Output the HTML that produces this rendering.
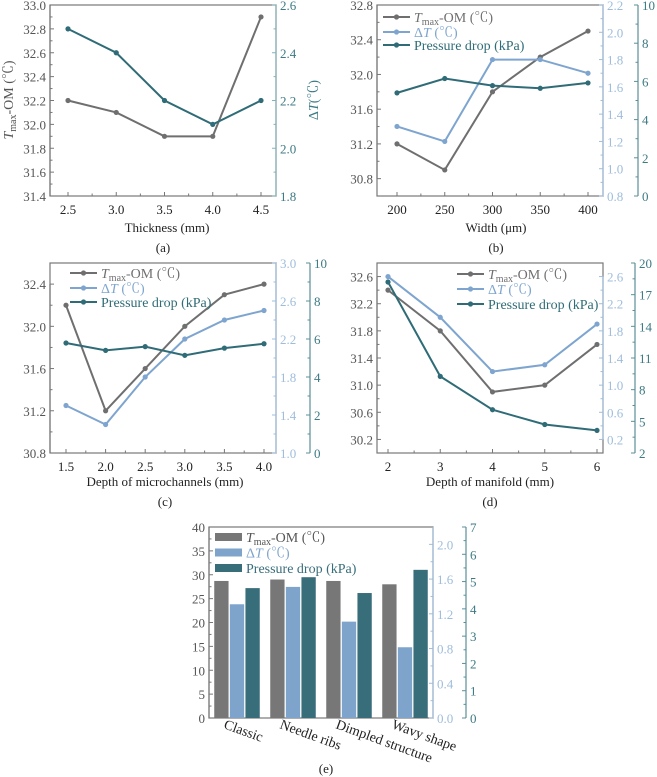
<!DOCTYPE html>
<html><head><meta charset="utf-8">
<style>
body{margin:0;background:#fff}
svg{display:block}
svg text{font-family:"Liberation Serif","Times New Roman","Noto Serif CJK SC",serif}
</style></head>
<body>
<svg id="fig" width="657" height="777" viewBox="0 0 657 777" xmlns="http://www.w3.org/2000/svg" font-family="Liberation Serif, serif"></svg>
<script>
// ---- Panel (a) data
const aX = [2.5, 3.0, 3.5, 4.0, 4.5];
const aTmax = [32.2, 32.1, 31.9, 31.9, 32.9];
const aDT = [2.5, 2.4, 2.2, 2.1, 2.2];
const aLeftTicks = [31.4, 31.6, 31.8, 32.0, 32.2, 32.4, 32.6, 32.8, 33.0];
const aRightTicks = [1.8, 2.0, 2.2, 2.4, 2.6];
const aXTicks = ["2.5", "3.0", "3.5", "4.0", "4.5"];
// ---- Panel (b) data
const bX = [200, 250, 300, 350, 400];
const bTmax = [31.2, 30.9, 31.8, 32.2, 32.5];
const bDT = [1.31, 1.2, 1.8, 1.8, 1.7];
const bDP = [5.4, 6.15, 5.78, 5.64, 5.92];
const bLeftTicks = [30.8, 31.2, 31.6, 32.0, 32.4, 32.8];
const bDTTicks = [0.8, 1.0, 1.2, 1.4, 1.6, 1.8, 2.0, 2.2];
const bDPTicks = [0, 2, 4, 6, 8, 10];
const bXTicks = ["200", "250", "300", "350", "400"];
// ---- Panel (c) data
const cX = [1.5, 2.0, 2.5, 3.0, 3.5, 4.0];
const cTmax = [32.2, 31.2, 31.6, 32.0, 32.3, 32.4];
const cDT = [1.5, 1.3, 1.8, 2.2, 2.4, 2.5];
const cDP = [5.79, 5.4, 5.6, 5.14, 5.52, 5.75];
const cLeftTicks = [30.8, 31.2, 31.6, 32.0, 32.4];
const cDTTicks = [1.0, 1.4, 1.8, 2.2, 2.6, 3.0];
const cDPTicks = [0, 2, 4, 6, 8, 10];
const cXTicks = ["1.5", "2.0", "2.5", "3.0", "3.5", "4.0"];
// ---- Panel (d) data
const dX = [2, 3, 4, 5, 6];
const dTmax = [32.4, 31.8, 30.9, 31.0, 31.6];
const dDT = [2.6, 2.0, 1.2, 1.3, 1.9];
const dDP = [18.2, 9.26, 6.1, 4.7, 4.14];
const dLeftTicks = [30.2, 30.6, 31.0, 31.4, 31.8, 32.2, 32.6];
const dDTTicks = [0.2, 0.6, 1.0, 1.4, 1.8, 2.2, 2.6];
const dDPTicks = [2, 5, 8, 11, 14, 17, 20];
const dXTicks = ["2", "3", "4", "5", "6"];
// ---- Panel (e) data
const eCats = ["Classic", "Needle ribs", "Dimpled structure", "Wavy shape"];
const eTmax = [28.7, 29.0, 28.7, 28.0];
const eDT = [1.31, 1.51, 1.11, 0.815];
const eDP = [4.76, 5.16, 4.58, 5.43];
const eLeftTicks = [0, 5, 10, 15, 20, 25, 30, 35, 40];
const eDTTicks = [0.0, 0.4, 0.8, 1.2, 1.6, 2.0];
const eDPTicks = [0, 1, 2, 3, 4, 5, 6, 7];

const NS = "http://www.w3.org/2000/svg";
const svg = document.getElementById("fig");
const FONT = '"Liberation Serif", "Noto Serif CJK SC", serif';
const FS = 13;
const C_T = "#6f6f6f", C_DT = "#7ea5cf", C_DP = "#2f6c77", C_AX = "#777", C_TXT = "#555";
const C_DTAX = "#9fbddb", C_DPAX = "#5b8f98";
function el(tag, attrs, parent) {
  const e = document.createElementNS(NS, tag);
  for (const k in attrs) e.setAttribute(k, attrs[k]);
  if (tag === "text") e.setAttribute("font-family", FONT);
  (parent || svg).appendChild(e);
  return e;
}
function lin(d0, d1, r0, r1) { return v => r0 + (v - d0) / (d1 - d0) * (r1 - r0); }
function fmt(v, dec) { return v.toFixed(dec); }
function txt(x, y, s, attrs, name) {
  const t = el("text", Object.assign({x: x, y: y, "font-size": FS}, attrs));
  t.textContent = s;
  
  
  return t;
}
function line(x1, y1, x2, y2, stroke, w, name) {
  const l = el("line", {x1: x1, y1: y1, x2: x2, y2: y2, stroke: stroke, "stroke-width": w || 1});
  
  
  return l;
}
function vAxis(x, y, ticks, dec, color, labelColor, side, dir, name, minor) {
  line(x, y(ticks[0]), x, y(ticks[ticks.length - 1]), color, 1.2, name + "-line");
  ticks.forEach((v, i) => {
    const py = y(v);
    line(x, py, x + dir * 4, py, color, 1, name + "-tick");
    if (minor && i < ticks.length - 1) {
      const my = (py + y(ticks[i + 1])) / 2;
      line(x, my, x + dir * 2.5, my, color, 1, name + "-minor-tick");
    }
    const lx = side < 0 ? x - 4 : x + 4;
    txt(lx, py + 5, fmt(v, dec), {"text-anchor": side < 0 ? "end" : "start", fill: labelColor}, name + "-label");
  });
}
function frame(L, T, R, B, name) {
  const r = el("rect", {x: L, y: T, width: R - L, height: B - T, fill: "none", stroke: C_AX, "stroke-width": 1.2});
  
  
}
function xAxis(xs, labels, x, B, name) {
  xs.forEach((v, i) => {
    const px = x(v);
    line(px, B, px, B - 4, C_AX, 1, name + "-tick");
    if (i < xs.length - 1) { const m = (px + x(xs[i + 1])) / 2; line(m, B, m, B - 2.5, C_AX, 1, name + "-minor-tick"); }
    txt(px, B + 18, labels[i], {"text-anchor": "middle", fill: "#222"}, name + "-label");
  });
}
function series(xs, ys, x, y, color, name) {
  const pts = xs.map((v, i) => x(v) + "," + y(ys[i])).join(" ");
  const p = el("polyline", {points: pts, fill: "none", stroke: color, "stroke-width": 2});
  
  
  xs.forEach((v, i) => {
    const c = el("circle", {cx: x(v), cy: y(ys[i]), r: 2.6, fill: color});
    
    
  });
}
function legendLine(x, y, color, label, italicPart, name) {
  line(x, y, x + 27, y, color, 2, name + "-swatch");
  const c = el("circle", {cx: x + 13.5, cy: y, r: 2.6, fill: color});
  
  
  legendText(x + 31, y + 5, color, label, name);
}
function legendText(x, y, color, kind, name) {
  const t = el("text", {x: x, y: y, "font-size": 14, fill: color});
  
  
  if (kind === "T") {
    t.innerHTML = '<tspan font-style="italic">T</tspan><tspan font-size="10" dy="3">max</tspan><tspan dy="-3">-OM (℃)</tspan>';
  } else if (kind === "DT") {
    t.innerHTML = 'Δ<tspan font-style="italic">T</tspan> (℃)';
  } else t.textContent = "Pressure drop (kPa)";
}
function caption(x, y, s, name) { txt(x, y, s, {"text-anchor": "middle", fill: "#222"}, name); }

// ===== Panel (a)
(function () {
  const L = 50, T = 5, R = 276, B = 196;
  const x = lin(2.5, 4.5, 68, 261), y = lin(31.4, 33.0, B, T), y2 = lin(1.8, 2.6, B, T);
  frame(L, T, R, B, "panel-a-frame");
  vAxis(L, y, aLeftTicks, 1, C_AX, C_TXT, -1, 1, "panel-a-y-axis", true);
  vAxis(R, y2, aRightTicks, 1, "#85b2b7", "#3d7a84", 1, -1, "panel-a-y2-axis", true);
  xAxis(aX, aXTicks, x, B, "panel-a-x-axis");
  series(aX, aTmax, x, y, C_T, "panel-a-tmax");
  series(aX, aDT, x, y2, C_DP, "panel-a-dt");
  const yl = el("text", {x: 0, y: 0, "font-size": 14, fill: C_TXT, transform: "translate(13,100) rotate(-90)", "text-anchor": "middle"});
  
  
  yl.innerHTML = '<tspan font-style="italic">T</tspan><tspan font-size="10" dy="3">max</tspan><tspan dy="-3">-OM (℃)</tspan>';
  const yr = el("text", {x: 0, y: 0, "font-size": 14, fill: "#3d7a84", transform: "translate(318,100) rotate(-90)", "text-anchor": "middle"});
  
  
  yr.innerHTML = 'Δ<tspan font-style="italic">T</tspan>(℃)';
  caption(167, 232, "Thickness (mm)", "panel-a-x-axis-title");
  caption(163, 252, "(a)", "panel-a-caption");
})();

// ===== Panel (b)
(function () {
  const L = 377, T = 5, R = 603, B = 196, P = 638;
  const x = lin(200, 400, 397, 588), y = lin(30.6, 32.8, B, T), y2 = lin(0.8, 2.2, B, T), y3 = lin(0, 10, B, T);
  frame(L, T, R, B, "panel-b-frame");
  vAxis(L, y, bLeftTicks, 1, C_AX, C_TXT, -1, 1, "panel-b-y-axis", true);
  vAxis(R, y2, bDTTicks, 1, C_DTAX, C_DTAX, 1, -1, "panel-b-dt-axis", true);
  vAxis(P, y3, bDPTicks, 0, C_DPAX, "#3d7a84", 1, -1, "panel-b-dp-axis", true);
  xAxis(bX, bXTicks, x, B, "panel-b-x-axis");
  series(bX, bTmax, x, y, C_T, "panel-b-tmax");
  series(bX, bDT, x, y2, C_DT, "panel-b-dt");
  series(bX, bDP, x, y3, C_DP, "panel-b-dp");
  legendLine(383, 17, C_T, "T", 0, "panel-b-legend-tmax");
  legendLine(383, 32, C_DT, "DT", 0, "panel-b-legend-dt");
  legendLine(383, 45, C_DP, "P", 0, "panel-b-legend-dp");
  caption(496, 232, "Width (μm)", "panel-b-x-axis-title");
  caption(496, 252, "(b)", "panel-b-caption");
})();

// ===== Panel (c)
(function () {
  const L = 50, T = 263, R = 276, B = 453, P = 310;
  const x = lin(1.5, 4.0, 66, 264), y = lin(30.8, 32.6, B, T), y2 = lin(1.0, 3.0, B, T), y3 = lin(0, 10, B, T);
  frame(L, T, R, B, "panel-c-frame");
  vAxis(L, y, cLeftTicks, 1, C_AX, C_TXT, -1, 1, "panel-c-y-axis", true);
  vAxis(R, y2, cDTTicks, 1, C_DTAX, C_DTAX, 1, -1, "panel-c-dt-axis", true);
  vAxis(P, y3, cDPTicks, 0, C_DPAX, "#3d7a84", 1, -1, "panel-c-dp-axis", true);
  xAxis(cX, cXTicks, x, B, "panel-c-x-axis");
  series(cX, cTmax, x, y, C_T, "panel-c-tmax");
  series(cX, cDT, x, y2, C_DT, "panel-c-dt");
  series(cX, cDP, x, y3, C_DP, "panel-c-dp");
  legendLine(70, 273, C_T, "T", 0, "panel-c-legend-tmax");
  legendLine(70, 288, C_DT, "DT", 0, "panel-c-legend-dt");
  legendLine(70, 302, C_DP, "P", 0, "panel-c-legend-dp");
  caption(165, 486, "Depth of microchannels (mm)", "panel-c-x-axis-title");
  caption(165, 506, "(c)", "panel-c-caption");
})();

// ===== Panel (d)
(function () {
  const L = 377, T = 263, R = 603, B = 453, P = 635;
  const x = lin(2, 6, 388, 597), y = lin(30.0, 32.8, B, T), y2 = lin(0.0, 2.8, B, T), y3 = lin(2, 20, B, T);
  frame(L, T, R, B, "panel-d-frame");
  vAxis(L, y, dLeftTicks, 1, C_AX, C_TXT, -1, 1, "panel-d-y-axis", true);
  vAxis(R, y2, dDTTicks, 1, C_DTAX, C_DTAX, 1, -1, "panel-d-dt-axis", true);
  vAxis(P, y3, dDPTicks, 0, C_DPAX, "#3d7a84", 1, -1, "panel-d-dp-axis", true);
  xAxis(dX, dXTicks, x, B, "panel-d-x-axis");
  series(dX, dTmax, x, y, C_T, "panel-d-tmax");
  series(dX, dDT, x, y2, C_DT, "panel-d-dt");
  series(dX, dDP, x, y3, C_DP, "panel-d-dp");
  legendLine(457, 274, C_T, "T", 0, "panel-d-legend-tmax");
  legendLine(457, 289, C_DT, "DT", 0, "panel-d-legend-dt");
  legendLine(457, 304, C_DP, "P", 0, "panel-d-legend-dp");
  caption(490, 486, "Depth of manifold (mm)", "panel-d-x-axis-title");
  caption(490, 506, "(d)", "panel-d-caption");
})();

// ===== Panel (e)
(function () {
  const L = 209, T = 527, R = 433, B = 718, P = 466;
  const y = lin(0, 40, B, T), y2 = lin(0, 2.2, B, T), y3 = lin(0, 7, B, T);
  const gw = (R - L) / eCats.length, bw = 14.3, gap = 1.3;
  frame(L, T, R, B, "panel-e-frame");
  vAxis(L, y, eLeftTicks, 0, C_AX, C_TXT, -1, 1, "panel-e-y-axis", true);
  vAxis(R, y2, eDTTicks, 1, C_DTAX, C_DTAX, 1, -1, "panel-e-dt-axis", true);
  line(R, y2(2.0), R, T, C_DTAX, 1.2, "panel-e-dt-axis-top");
  vAxis(P, y3, eDPTicks, 0, C_DPAX, "#3d7a84", 1, -1, "panel-e-dp-axis", true);
  const series3 = [[eTmax, y, "#777777", "tmax"], [eDT, y2, "#7fa4cb", "dt"], [eDP, y3, "#386d7a", "dp"]];
  eCats.forEach((cat, i) => {
    const cx = L + gw * (i + 0.5);
    series3.forEach((s, j) => {
      const bx = cx + (j - 1) * (bw + gap) - bw / 2;
      const top = s[1](s[0][i]);
      const r = el("rect", {x: bx, y: top, width: bw, height: B - top, fill: s[2]});
      
      
    });
    const t = el("text", {x: 0, y: 0, "font-size": 14, fill: "#222", transform: "translate(" + (cx - 14) + ",728) rotate(20)"});
    t.textContent = cat;
    
    
  });
  const lg = [["#777777", "T", "tmax"], ["#7fa4cb", "DT", "dt"], ["#386d7a", "P", "dp"]];
  lg.forEach((g, k) => {
    const yy = 537 + k * 15.5;
    const r = el("rect", {x: 215, y: yy - 4, width: 27, height: 8, fill: g[0]});
    
    
    legendText(246, yy + 5, g[1] === "T" ? "#555" : g[0], g[1], "panel-e-legend-" + g[2]);
  });
  caption(326, 773, "(e)", "panel-e-caption");
})();
</script>
</body></html>
